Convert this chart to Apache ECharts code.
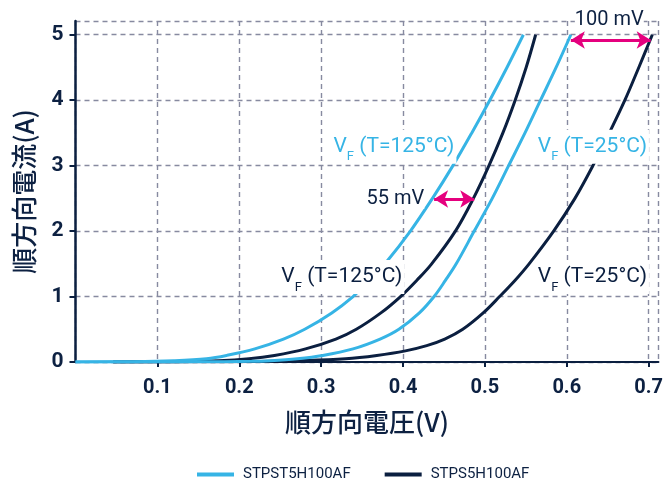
<!DOCTYPE html>
<html><head><meta charset="utf-8">
<script src="https://cdn.jsdelivr.net/npm/echarts@6.0.0/dist/echarts.min.js"></script>
<style>html,body{margin:0;padding:0;background:#fff}#c{width:666px;height:479px}</style>
</head><body><div id="c"></div>
<script>
// STPST5H100AF, Tj = 125°C
const lightHotV = [0, 0.07, 0.12, 0.16, 0.1845, 0.219, 0.254, 0.28, 0.313, 0.339, 0.3596, 0.378, 0.409, 0.436, 0.461, 0.484, 0.506, 0.527, 0.547];
const lightHotI = [0, 0.005, 0.02, 0.05, 0.1, 0.2, 0.35, 0.5, 0.75, 1.0, 1.25, 1.5, 2.0, 2.5, 3.0, 3.5, 4.0, 4.5, 5.0];
// STPS5H100AF, Tj = 125°C
const darkHotV = [0.046, 0.12, 0.175, 0.212, 0.243, 0.281, 0.318, 0.343, 0.373, 0.397, 0.417, 0.435, 0.464, 0.486, 0.505, 0.522, 0.537, 0.5504, 0.562];
const darkHotI = [0, 0.005, 0.02, 0.05, 0.1, 0.2, 0.35, 0.5, 0.75, 1.0, 1.25, 1.5, 2.0, 2.5, 3.0, 3.5, 4.0, 4.5, 5.0];
// STPST5H100AF, Tj = 25°C
const lightColdV = [0, 0.1, 0.15, 0.215, 0.238, 0.271, 0.302, 0.339, 0.372, 0.395, 0.42, 0.438, 0.452, 0.465, 0.487, 0.509, 0.529, 0.549, 0.568, 0.587, 0.605];
const lightColdI = [0, 0.001, 0.003, 0.01, 0.02, 0.05, 0.1, 0.2, 0.35, 0.5, 0.75, 1.0, 1.25, 1.5, 2.0, 2.5, 3.0, 3.5, 4.0, 4.5, 5.0];
// STPS5H100AF, Tj = 25°C
const darkColdV = [0.046, 0.15, 0.22, 0.27, 0.33, 0.368, 0.403, 0.429, 0.451, 0.473, 0.498, 0.518, 0.537, 0.554, 0.584, 0.61, 0.632, 0.652, 0.671, 0.688, 0.7045];
const darkColdI = [0, 0.002, 0.007, 0.02, 0.05, 0.1, 0.17, 0.25, 0.35, 0.5, 0.75, 1.0, 1.25, 1.5, 2.0, 2.5, 3.0, 3.5, 4.0, 4.5, 5.0];

const seriesNames = ['STPST5H100AF', 'STPS5H100AF'];
const xTitle = '順方向電圧(V)';
const yTitle = '順方向電流(A)';
// annotation arrows [v1, v2, current]
const arrow100 = [0.605, 0.7025, 4.92];
const arrow55 = [0.438, 0.487, 2.49];

const LIGHT = '#36b4e5', DARK = '#0b1f40', MAG = '#e5007e', TXT = '#0d2142', GRID = '#878aa0';
const pairs = (v, i) => v.map((x, k) => [x, i[k]]);

const chart = echarts.init(document.getElementById('c'), null, {renderer: 'canvas'});
const lineStyle = c => ({color: c, width: 3});
const baseSeries = (name, c, v, i) => ({
  name, type: 'line', data: pairs(v, i), showSymbol: false, smooth: 0.35,
  lineStyle: lineStyle(c), itemStyle: {color: c}, silent: true, animation: false
});
chart.setOption({
  animation: false,
  grid: {left: 75.5, right: 6, top: 21, bottom: 117},
  legend: {
    data: seriesNames, top: 462, left: 192, icon: 'rect', itemWidth: 37, itemHeight: 4, itemGap: 34,
    textStyle: {fontFamily: 'Roboto', fontSize: 15, color: TXT, padding: [0, 0, 0, 4]}
  },
  xAxis: {
    type: 'value', min: 0, max: 0.712, interval: 0.1,
    name: xTitle, nameLocation: 'middle', nameGap: 47,
    nameTextStyle: {fontFamily: 'Noto Sans CJK JP', fontSize: 26, color: TXT, fontWeight: 500},
    axisLine: {show: true, lineStyle: {color: DARK, width: 2}},
    axisTick: {show: true, length: 5, lineStyle: {color: DARK, width: 2}},
    axisLabel: {showMinLabel: false, margin: 16, fontFamily: 'Roboto', fontWeight: 'bold', fontSize: 20, color: TXT},
    splitLine: {show: true, lineStyle: {color: GRID, type: [5, 4], width: 1.4}}
  },
  yAxis: {
    type: 'value', min: 0, max: 5.21, interval: 1,
    name: yTitle, nameLocation: 'middle', nameGap: 38, nameRotate: 90,
    nameTextStyle: {fontFamily: 'Noto Sans CJK JP', fontSize: 26, color: TXT, fontWeight: 500},
    axisLine: {show: true, lineStyle: {color: DARK, width: 2.5}},
    axisTick: {show: true, length: 6, lineStyle: {color: DARK, width: 2}},
    axisLabel: {margin: 12, fontFamily: 'Roboto', fontWeight: 'bold', fontSize: 21, color: TXT},
    splitLine: {show: true, lineStyle: {color: GRID, type: [5, 4], width: 1.4}}
  },
  series: [
    baseSeries(seriesNames[1], DARK, darkColdV, darkColdI),
    baseSeries(seriesNames[1], DARK, darkHotV, darkHotI),
    baseSeries(seriesNames[0], LIGHT, lightColdV, lightColdI),
    Object.assign(baseSeries(seriesNames[0], LIGHT, lightHotV, lightHotI), {
      markLine: {
        silent: true, symbol: ['arrow', 'arrow'], symbolSize: [13, 14],
        label: {show: false}, lineStyle: {color: MAG, width: 3, type: 'solid'},
        emphasis: {disabled: true},
        data: [
          [{coord: [arrow100[0], arrow100[2]]}, {coord: [arrow100[1], arrow100[2]]}],
          [{coord: [arrow55[0], arrow55[2]]}, {coord: [arrow55[1], arrow55[2]]}]
        ]
      }
    })
  ]
});

const px = (v, i) => chart.convertToPixel({gridIndex: 0}, [v, i]);
const vfLabel = (v, i, temp, color) => {
  const p = px(v, i);
  return {
    type: 'text', x: p[0], y: p[1], z: 100, silent: true,
    style: {
      text: '{a|V}{b|F}{a| (T=' + temp + '°C)}',
      align: 'left', verticalAlign: 'middle', backgroundColor: '#fff', padding: [0, 2],
      rich: {
        a: {fontFamily: 'Roboto', fontSize: 21, fill: color, color: color, lineHeight: 34},
        b: {fontFamily: 'Roboto', fontSize: 13, fill: color, color: color, verticalAlign: 'bottom'}
      }
    }
  };
};
const plainText = (v, i, txt, align) => {
  const p = px(v, i);
  return {
    type: 'text', x: p[0], y: p[1], z: 100, silent: true,
    style: {text: txt, align, verticalAlign: 'middle', fontFamily: 'Roboto', fontSize: 20, fill: TXT, backgroundColor: '#fff'}
  };
};
chart.setOption({
  graphic: [
    vfLabel(0.3126, 3.29, '125', LIGHT),
    vfLabel(0.5622, 3.29, '25', LIGHT),
    vfLabel(0.249, 1.30, '125', DARK),
    vfLabel(0.5622, 1.30, '25', DARK),
    plainText(0.426, 2.49, '55 mV', 'right'),
    plainText(0.652, 5.22, '100 mV', 'center')
  ]
});
</script></body></html>
